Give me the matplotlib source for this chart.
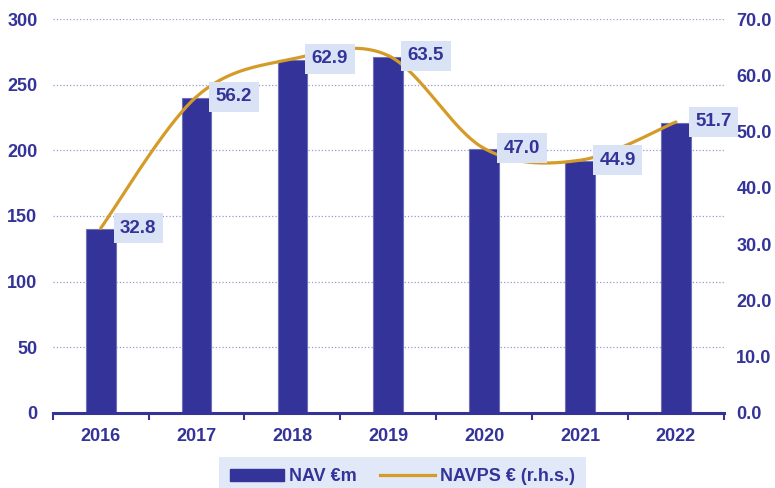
import matplotlib
matplotlib.use("Agg")
import matplotlib.pyplot as plt
import numpy as np
from matplotlib.patches import Patch
from matplotlib.lines import Line2D

# data
years = ['2016', '2017', '2018', '2019', '2020', '2021', '2022']
nav = [140, 240, 269, 271, 201, 192, 221]          # NAV €m (left axis)
navps = [32.8, 56.2, 62.9, 63.5, 47.0, 44.9, 51.7]  # NAVPS € (right axis)

BLUE = '#333399'
GOLD = '#D49B28'
LIGHT = '#DAE3F5'

plt.rcParams['font.family'] = ['Liberation Sans', 'DejaVu Sans']
plt.rcParams['font.weight'] = 'bold'

fig = plt.figure(figsize=(7.75, 4.88), dpi=100)
ax = fig.add_axes([0.068, 0.154, 0.866, 0.807])
ax2 = ax.twinx()

x = np.arange(len(years))
ax.bar(x, nav, width=0.31, color=BLUE, edgecolor='#7070b8', linewidth=0.8, zorder=2)

# smoothed line (Excel-style bezier through the points)
def smooth(xs, ys, n=40):
    pts = np.column_stack([xs, ys]).astype(float)
    out = []
    for i in range(len(pts) - 1):
        p0 = pts[i]
        p3 = pts[i + 1]
        pm = pts[i - 1] if i > 0 else p0
        pn = pts[i + 2] if i + 2 < len(pts) else p3
        p1 = p0 + (p3 - pm) / 6
        p2 = p3 - (pn - p0) / 6
        t = np.linspace(0, 1, n)[:, None]
        seg = ((1 - t) ** 3) * p0 + 3 * ((1 - t) ** 2) * t * p1 + 3 * (1 - t) * t ** 2 * p2 + t ** 3 * p3
        out.append(seg if i == 0 else seg[1:])
    out = np.vstack(out)
    return out[:, 0], out[:, 1]

sx, sy = smooth(x, navps)
ax2.plot(sx, sy, color=GOLD, linewidth=2.3, solid_capstyle='round', zorder=3)

for xi, v in zip(x, navps):
    ax2.annotate(f'{v:.1f}', (xi, v), xytext=(14, 0), textcoords='offset points',
                 ha='left', va='center', fontsize=13.5, fontweight='bold', color=BLUE,
                 bbox=dict(boxstyle='square,pad=0.35', fc=LIGHT, ec='none'), zorder=5)

ax.set_xlim(-0.5, len(years) - 0.5)
ax.set_ylim(0, 300)
ax2.set_ylim(0, 70)
ax.set_yticks(np.arange(0, 301, 50))
ax2.set_yticks(np.arange(0, 71, 10))
ax2.set_yticklabels([f'{v:.1f}' for v in np.arange(0, 71, 10)])

ax.set_xticks(x)
ax.set_xticklabels(years)
ax.set_xticks(np.arange(-0.5, len(years), 1), minor=True)
ax.tick_params(axis='x', which='major', length=0, pad=11, labelsize=13, labelcolor=BLUE)
ax.tick_params(axis='x', which='minor', length=5, width=1.5, color=BLUE, direction='out')
ax.tick_params(axis='y', length=0, pad=11, labelsize=13, labelcolor=BLUE)
ax2.tick_params(axis='y', length=0, pad=9, labelsize=13, labelcolor=BLUE)

ax.grid(axis='y', color='#9999cc', linestyle=':', linewidth=0.9, zorder=0)
ax.set_axisbelow(True)
for a in (ax, ax2):
    for s in ('top', 'left', 'right', 'bottom'):
        a.spines[s].set_visible(False)
ax.spines['bottom'].set_visible(True)
ax.spines['bottom'].set_color(BLUE)
ax.spines['bottom'].set_linewidth(2.2)

handles = [Patch(facecolor=BLUE, edgecolor=BLUE),
           Line2D([0], [0], color=GOLD, linewidth=2.3)]
leg = fig.legend(handles, ['NAV €m', 'NAVPS € (r.h.s.)'], ncol=2, loc='lower center',
                 bbox_to_anchor=(0.519, -0.035), frameon=True, fancybox=False,
                 prop={'size': 13, 'weight': 'bold'}, handlelength=3.0,
                 handleheight=0.6, handletextpad=0.3, columnspacing=1.3, borderpad=0.6)
leg.get_frame().set_facecolor(LIGHT)
leg.get_frame().set_edgecolor('none')
for t in leg.get_texts():
    t.set_color(BLUE)

fig.savefig('out.png', dpi=100)
